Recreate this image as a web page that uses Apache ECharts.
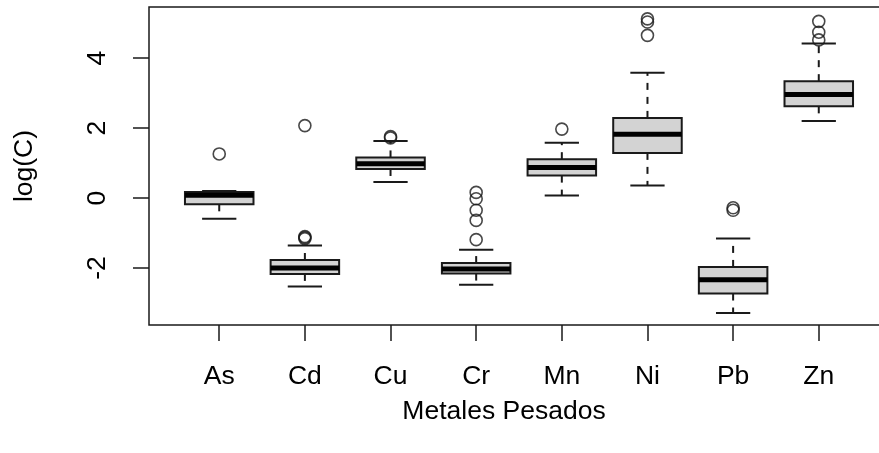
<!DOCTYPE html>
<html>
<head>
<meta charset="utf-8">
<script src="https://cdn.jsdelivr.net/npm/echarts@6/dist/echarts.min.js"></script>
<style>
  html, body { margin: 0; padding: 0; background: #fff; }
  #main { width: 879px; height: 453px; }
</style>
</head>
<body>
<div id="main"></div>
<script>
// metales pesados (cajas de R)
var metales = ['As', 'Cd', 'Cu', 'Cr', 'Mn', 'Ni', 'Pb', 'Zn'];
var bigoteInf = [-0.59, -2.53, 0.46, -2.48, 0.07, 0.36, -3.29, 2.20];
var cuartil1 = [-0.18, -2.17, 0.83, -2.16, 0.64, 1.29, -2.73, 2.62];
var mediana = [0.08, -2.00, 0.98, -2.03, 0.87, 1.82, -2.34, 2.96];
var cuartil3 = [0.17, -1.77, 1.16, -1.86, 1.11, 2.29, -1.97, 3.34];
var bigoteSup = [0.20, -1.36, 1.63, -1.48, 1.58, 3.58, -1.16, 4.42];
var atipicos = [
  [1.26],
  [2.07, -1.10, -1.13, -1.16],
  [1.72, 1.76],
  [0.16, -0.02, -0.35, -0.64, -1.19],
  [1.97],
  [4.65, 5.03, 5.12],
  [-0.35, -0.28],
  [4.52, 4.74, 5.05]
];
var ticksY = [-2, 0, 2, 4];

var fuente = "'Liberation Sans', Arial, sans-serif";
var negro = '#1a1a1a';

var cajas = [];
for (var i = 0; i < metales.length; i++) {
  cajas.push([i + 1, bigoteInf[i], cuartil1[i], mediana[i], cuartil3[i], bigoteSup[i]]);
}
var puntos = [];
for (var i = 0; i < atipicos.length; i++) {
  for (var j = 0; j < atipicos[i].length; j++) {
    puntos.push([i + 1, atipicos[i][j]]);
  }
}

function dibujaCaja(params, api) {
  var x = api.value(0);
  var lo = api.value(1), q1 = api.value(2), med = api.value(3), q3 = api.value(4), hi = api.value(5);
  var a = api.coord([x - 0.4, q3]);
  var b = api.coord([x + 0.4, q1]);
  var cx = api.coord([x, med])[0];
  var sA = api.coord([x - 0.2, hi]);
  var sB = api.coord([x + 0.2, lo]);
  var m1 = api.coord([x - 0.4, med]);
  var m2 = api.coord([x + 0.4, med]);
  var yHi = sA[1], yLo = sB[1];
  return {
    type: 'group',
    children: [
      { type: 'line', shape: { x1: cx, y1: a[1], x2: cx, y2: yHi },
        style: { stroke: negro, lineWidth: 2, lineDash: [7, 7] } },
      { type: 'line', shape: { x1: cx, y1: b[1], x2: cx, y2: yLo },
        style: { stroke: negro, lineWidth: 2, lineDash: [7, 7] } },
      { type: 'line', shape: { x1: sA[0], y1: yHi, x2: sB[0], y2: yHi },
        style: { stroke: negro, lineWidth: 2 } },
      { type: 'line', shape: { x1: sA[0], y1: yLo, x2: sB[0], y2: yLo },
        style: { stroke: negro, lineWidth: 2 } },
      { type: 'rect', shape: { x: a[0], y: a[1], width: b[0] - a[0], height: b[1] - a[1] },
        style: { fill: '#d3d3d3', stroke: negro, lineWidth: 2 } },
      { type: 'line', shape: { x1: m1[0], y1: m1[1], x2: m2[0], y2: m2[1] },
        style: { stroke: '#000', lineWidth: 5 } }
    ]
  };
}

var chart = echarts.init(document.getElementById('main'));
chart.setOption({
  animation: false,
  backgroundColor: '#fff',
  grid: {
    left: 149, top: 7, width: 740, height: 318,
    show: true, borderColor: negro, borderWidth: 1.5,
    containLabel: false, outerBoundsMode: 'none'
  },
  xAxis: {
    type: 'value', min: 0.18, max: 8.82,
    name: 'Metales Pesados', nameLocation: 'middle', nameGap: 73,
    nameTextStyle: { fontFamily: fuente, fontSize: 26.5, color: '#000', padding: [0, 30, 0, 0] },
    axisLine: { show: false, onZero: false },
    splitLine: { show: false },
    axisTick: { show: true, length: 16, customValues: [1, 2, 3, 4, 5, 6, 7, 8],
      lineStyle: { color: negro, width: 1.5 } },
    axisLabel: { show: true, margin: 38, customValues: [1, 2, 3, 4, 5, 6, 7, 8],
      fontFamily: fuente, fontSize: 26.5, color: '#000',
      formatter: function (v) { return metales[Math.round(v) - 1]; } }
  },
  yAxis: {
    type: 'value', min: -3.63, max: 5.46,
    name: 'log(C)', nameLocation: 'middle', nameGap: 111,
    nameTextStyle: { fontFamily: fuente, fontSize: 26.5, color: '#000' },
    axisLine: { show: false, onZero: false },
    splitLine: { show: false },
    axisTick: { show: true, length: 16, customValues: ticksY,
      lineStyle: { color: negro, width: 1.5 } },
    axisLabel: { show: true, rotate: 90, margin: 38, customValues: ticksY,
      fontFamily: fuente, fontSize: 26.5, color: '#000' }
  },
  series: [
    {
      type: 'custom',
      renderItem: dibujaCaja,
      data: cajas,
      encode: { x: 0, y: [1, 2, 3, 4, 5] },
      z: 2
    },
    {
      type: 'scatter',
      data: puntos,
      symbol: 'circle',
      symbolSize: 12,
      itemStyle: { color: 'none', borderColor: negro, borderWidth: 1.6 },
      z: 3
    }
  ]
});
</script>
</body>
</html>
